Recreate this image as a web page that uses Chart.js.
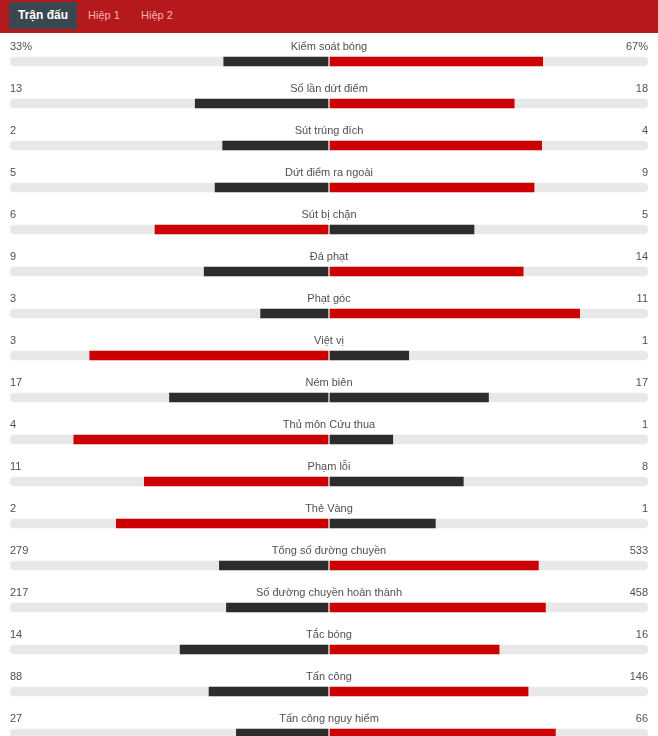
<!DOCTYPE html>
<html>
<head>
<meta charset="utf-8">
<script src="https://cdn.jsdelivr.net/npm/chart.js@4"></script>
<style>
  html, body { margin: 0; padding: 0; width: 658px; height: 736px; overflow: hidden; background: #fff; font-family: "Liberation Sans", Arial, sans-serif; }
  #hdr { position: absolute; left: 0; top: 0; width: 658px; height: 33px; background: #b5191b; }
  .tab { position: absolute; top: 2px; height: 27px; line-height: 27px; font-size: 11px; color: #f6b3b3; }
  .tab.active { background: #3b4750; color: #fff; font-weight: bold; font-size: 12px; left: 9px; width: 68px; text-align: center; }
  #wrap { position: absolute; left: 0; top: 34px; width: 658px; height: 721px; }
</style>
</head>
<body>
<div id="hdr">
  <div class="tab active">Trận đấu</div>
  <div class="tab" style="left:88px">Hiệp 1</div>
  <div class="tab" style="left:141px">Hiệp 2</div>
</div>
<div id="wrap"><canvas id="c"></canvas></div>
<script>
const categories = ["Kiểm soát bóng","Số lần dứt điểm","Sút trúng đích","Dứt điểm ra ngoài","Sút bị chặn","Đá phạt","Phạt góc","Việt vị","Ném biên","Thủ môn Cứu thua","Phạm lỗi","Thẻ Vàng","Tổng số đường chuyền","Số đường chuyền hoàn thành","Tắc bóng","Tấn công","Tấn công nguy hiểm"];
const homeValues = [33,13,2,5,6,9,3,3,17,4,11,2,279,217,14,88,27];
const awayValues = [67,18,4,9,5,14,11,1,17,1,8,1,533,458,16,146,66];
const homeLabels = ["33%","13","2","5","6","9","3","3","17","4","11","2","279","217","14","88","27"];
const awayLabels = ["67%","18","4","9","5","14","11","1","17","1","8","1","533","458","16","146","66"];

const RED = "#cc0000", DARK = "#2d2d2d", TRACK = "#e8e8e8";
const share = (a, b) => a / (a + b);
const GAP = 1/319;

const leftData = homeValues.map((v, i) => [-share(v, awayValues[i]), -GAP]);
const rightData = awayValues.map((v, i) => [GAP, share(v, homeValues[i])]);
const trackData = categories.map(() => [-1, 1]);
const leftColors = homeValues.map((v, i) => v > awayValues[i] ? RED : DARK);
const rightColors = awayValues.map((v, i) => v > homeValues[i] ? RED : DARK);

const textPlugin = {
  id: "rowText",
  afterDatasetsDraw(chart) {
    const ctx = chart.ctx, y = chart.scales.y, area = chart.chartArea;
    const cx = (area.left + area.right) / 2;
    ctx.save();
    ctx.font = "11px 'Liberation Sans', Arial, sans-serif";
    ctx.fillStyle = "#505050";
    ctx.textBaseline = "alphabetic";
    categories.forEach((c, i) => {
      const yy = y.getPixelForValue(i) - 11.5;
      ctx.textAlign = "left"; ctx.fillText(homeLabels[i], area.left, yy);
      ctx.textAlign = "center"; ctx.fillText(c, cx, yy);
      ctx.textAlign = "right"; ctx.fillText(awayLabels[i], area.right, yy);
    });
    ctx.restore();
  }
};

new Chart(document.getElementById("c"), {
  type: "bar",
  data: {
    labels: categories,
    datasets: [
      { data: leftData, backgroundColor: leftColors, barThickness: 9, grouped: false, borderSkipped: false },
      { data: rightData, backgroundColor: rightColors, barThickness: 9, grouped: false, borderSkipped: false },
      { data: trackData, backgroundColor: TRACK, barThickness: 9, grouped: false, borderSkipped: false, borderRadius: 4.5 }
    ]
  },
  options: {
    indexAxis: "y",
    responsive: true,
    maintainAspectRatio: false,
    animation: false,
    layout: { padding: { left: 10, right: 10, top: 6.5, bottom: 0.5 } },
    scales: {
      x: { display: false, min: -1, max: 1 },
      y: { display: false }
    },
    plugins: { legend: { display: false }, tooltip: { enabled: false } }
  },
  plugins: [textPlugin]
});
</script>
</body>
</html>
